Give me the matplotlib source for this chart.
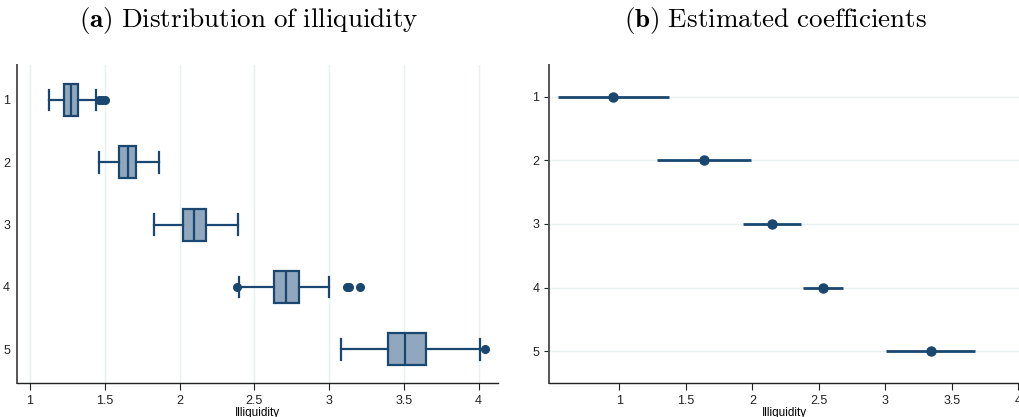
import matplotlib.pyplot as plt
import numpy as np

# box plot summaries per group
groups = [1, 2, 3, 4, 5]
whis_lo = [1.127, 1.46, 1.83, 2.40, 3.08]
q1 = [1.23, 1.593, 2.025, 2.632, 3.393]
med = [1.276, 1.653, 2.10, 2.712, 3.51]
q3 = [1.323, 1.711, 2.175, 2.797, 3.65]
whis_hi = [1.44, 1.86, 2.39, 3.002, 4.01]
fliers = [[1.46, 1.48, 1.50], [], [], [2.383, 3.118, 3.136, 3.21], [4.045]]

# estimated coefficients with confidence intervals
coef = [0.955, 1.635, 2.146, 2.529, 3.344]
ci_lo = [0.537, 1.281, 1.928, 2.378, 3.008]
ci_hi = [1.376, 1.988, 2.366, 2.684, 3.677]

navy = '#1a476f'
fill = '#90a7be'
grid = '#e8f0f2'

plt.rcParams['font.family'] = ['Liberation Sans', 'DejaVu Sans']
plt.rcParams['mathtext.fontset'] = 'cm'

fig = plt.figure(figsize=(10.2, 4.17), dpi=100)
ax1 = fig.add_axes([17/1020, 1-383/417, (498-17)/1020, (383-65)/417])
ax2 = fig.add_axes([549/1020, 1-383/417, (1020-549)/1020, (383-65)/417])

# (a) box plots
stats = []
for i in range(len(groups)):
    stats.append(dict(whislo=whis_lo[i], q1=q1[i], med=med[i], q3=q3[i],
                      whishi=whis_hi[i], fliers=fliers[i]))
ax1.bxp(stats, positions=groups, vert=False, widths=0.51, patch_artist=True,
        boxprops=dict(facecolor=fill, edgecolor=navy, linewidth=1.6),
        medianprops=dict(color=navy, linewidth=1.6),
        whiskerprops=dict(color=navy, linewidth=1.6),
        capprops=dict(color=navy, linewidth=1.6),
        capwidths=0.33,
        flierprops=dict(marker='o', markerfacecolor=navy, markeredgecolor=navy,
                        markersize=5.5))
ax1.set_xlim(0.913, 4.13)
ax1.set_ylim(5.54, 0.44)
ax1.set_xticks([1, 1.5, 2, 2.5, 3, 3.5, 4])
ax1.set_xticklabels(['1', '1.5', '2', '2.5', '3', '3.5', '4'])
ax1.set_yticks(groups)
ax1.set_yticklabels([str(g) for g in groups])
ax1.tick_params(axis='y', length=0, pad=5)
ax1.grid(axis='x', color=grid, linewidth=1)
ax1.set_axisbelow(True)
ax1.set_xlabel('Illiquidity', fontsize=8.5, labelpad=0)

# (b) coefficient plot
ax2.hlines(groups, ci_lo, ci_hi, color=navy, linewidth=2)
ax2.plot(coef, groups, 'o', color=navy, markersize=6.5)
ax2.set_xlim(0.471, 4.013)
ax2.set_ylim(5.5, 0.5)
ax2.set_xticks([1, 1.5, 2, 2.5, 3, 3.5, 4])
ax2.set_xticklabels(['1', '1.5', '2', '2.5', '3', '3.5', '4'])
ax2.set_yticks(groups)
ax2.set_yticklabels([str(g) for g in groups])
ax2.grid(axis='y', color=grid, linewidth=1)
ax2.set_axisbelow(True)
ax2.set_xlabel('Illiquidity', fontsize=8.5, labelpad=0)

for ax in (ax1, ax2):
    ax.spines['top'].set_visible(False)
    ax.spines['right'].set_visible(False)
    ax.spines['left'].set_color('#555555')
    ax.spines['left'].set_linewidth(1.4)
    ax.spines['bottom'].set_color('#222222')
    ax.spines['bottom'].set_linewidth(1.0)
    ax.tick_params(labelsize=9, colors='#222222', width=0.8)
    ax.tick_params(axis='x', length=5)

fig.text(249/1020, 1-20/417, r'$\mathbf{(a)}\ \mathrm{Distribution\ of\ illiquidity}$',
         ha='center', va='center', fontsize=19.5)
fig.text(776/1020, 1-20/417, r'$\mathbf{(b)}\ \mathrm{Estimated\ coefficients}$',
         ha='center', va='center', fontsize=19.5)

fig.savefig('out.png', dpi=100)
